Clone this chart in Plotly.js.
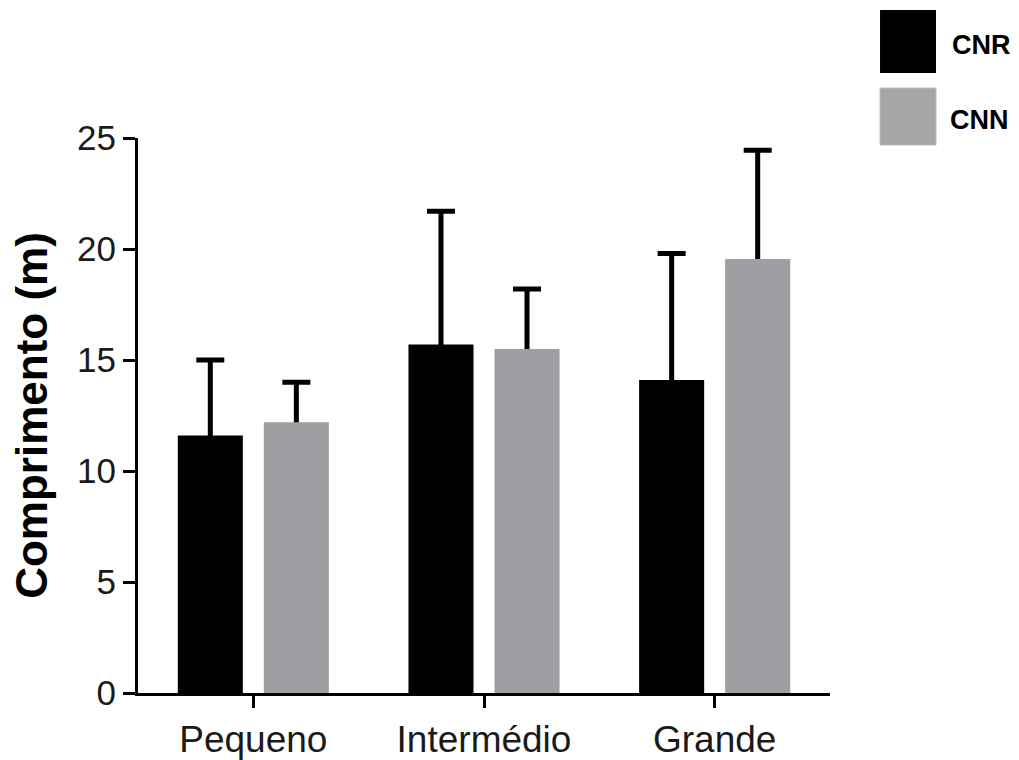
<!DOCTYPE html>
<html>
<head>
<meta charset="utf-8">
<script src="https://cdn.plot.ly/plotly-3.0.1.min.js"></script>
<style>html,body{margin:0;padding:0;background:#fff;}#chart{width:1019px;height:760px;}</style>
</head>
<body>
<div id="chart"></div>
<script>
const categories = ["Pequeno", "Intermédio", "Grande"];
const cnrMeans = [11.6, 15.7, 14.1];
const cnrErrors = [3.4, 6.0, 5.7];
const cnnMeans = [12.2, 15.5, 19.55];
const cnnErrors = [1.8, 2.7, 4.9];
const yTicks = [0, 5, 10, 15, 20, 25];
const seriesNames = ["CNR", "CNN"];

const FONT = '"Liberation Sans", Arial, sans-serif';
const errStyle = {color: '#000', thickness: 5, width: 14};

// Error bars are drawn symmetric on hidden bars underneath; the visible bars
// (same offsetgroup) cover the lower half, leaving one-sided upper whiskers.
const traces = [
  {
    type: 'bar', name: seriesNames[0] + ' err', x: categories, y: cnrMeans, offsetgroup: 'cnr',
    marker: {color: 'rgba(0,0,0,0)'},
    error_y: Object.assign({type: 'data', symmetric: true, array: cnrErrors}, errStyle),
    showlegend: false
  },
  {
    type: 'bar', name: seriesNames[1] + ' err', x: categories, y: cnnMeans, offsetgroup: 'cnn',
    marker: {color: 'rgba(0,0,0,0)'},
    error_y: Object.assign({type: 'data', symmetric: true, array: cnnErrors}, errStyle),
    showlegend: false
  },
  {
    type: 'bar', name: seriesNames[0], x: categories, y: cnrMeans, offsetgroup: 'cnr',
    marker: {color: '#000000'}, showlegend: false
  },
  {
    type: 'bar', name: seriesNames[1], x: categories, y: cnnMeans, offsetgroup: 'cnn',
    marker: {color: '#9f9fa3'}, showlegend: false
  }
];

const layout = {
  width: 1019, height: 760,
  margin: {l: 138, r: 189, t: 138, b: 67, pad: 0},
  paper_bgcolor: '#fff', plot_bgcolor: '#fff',
  barmode: 'group', bargap: 0.254, bargroupgap: 0.244,
  font: {family: FONT, color: '#222'},
  xaxis: {
    type: 'category', range: [-0.5, 2.5],
    showline: true, linewidth: 3, linecolor: '#000',
    ticks: 'outside', ticklen: 12, tickwidth: 3, tickcolor: '#000',
    showgrid: false, zeroline: false,
    tickfont: {family: FONT, size: 37, color: '#1a1a1a'}
  },
  yaxis: {
    range: [0, 25], tickvals: yTicks, ticktext: yTicks.map(String),
    showline: true, linewidth: 3, linecolor: '#000',
    ticks: 'outside', ticklen: 12, tickwidth: 3, tickcolor: '#000',
    showgrid: false, zeroline: false,
    tickfont: {family: FONT, size: 35, color: '#1a1a1a'},
    title: {text: '<b>Comprimento (m)</b>', font: {family: FONT, size: 44, color: '#000'}, standoff: 16}
  },
  shapes: [
    {type: 'rect', xref: 'paper', yref: 'paper', x0: 1.0723, x1: 1.1532, y0: 1.1171, y1: 1.2306,
     fillcolor: '#000', line: {width: 0}},
    {type: 'rect', xref: 'paper', yref: 'paper', x0: 1.0723, x1: 1.1532, y0: 0.9874, y1: 1.0901,
     fillcolor: '#a6a6a6', line: {width: 1, color: '#bdbdbd'}}
  ],
  annotations: [
    {xref: 'paper', yref: 'paper', x: 1.1734, y: 1.1676, xanchor: 'left', yanchor: 'middle',
     text: '<b>' + seriesNames[0] + '</b>', showarrow: false, font: {family: FONT, size: 27, color: '#000'}},
    {xref: 'paper', yref: 'paper', x: 1.1705, y: 1.0324, xanchor: 'left', yanchor: 'middle',
     text: '<b>' + seriesNames[1] + '</b>', showarrow: false, font: {family: FONT, size: 27, color: '#000'}}
  ]
};

Plotly.newPlot('chart', traces, layout, {displayModeBar: false, staticPlot: true});
</script>
</body>
</html>
